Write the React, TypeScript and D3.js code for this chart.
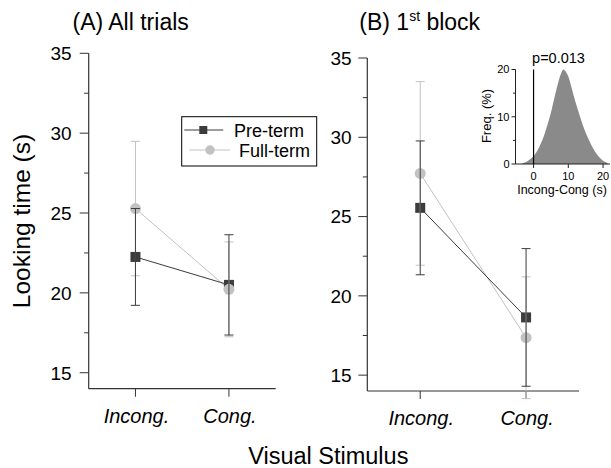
import React from "react";
import * as d3 from "d3";

const categories = ["Incong.", "Cong."];
const majorTicks = [15, 20, 25, 30, 35];
const minorTicks = [17.5, 22.5, 27.5, 32.5];

const preTermA = [22.25, 20.5];
const preTermAErr = [3.03, 3.14];
const fullTermA = [25.28, 20.22];
const fullTermAErr = [4.21, 2.97];

const preTermB = [25.55, 18.64];
const preTermBErr = [4.22, 4.34];
const fullTermB = [27.72, 17.36];
const fullTermBErr = [5.79, 3.84];

const diffX = [-3.5, -3, -2, -1, 0, 1, 2, 3, 4, 5, 6, 7, 8, 8.6, 9, 10, 11, 12, 13, 14, 15, 16, 17, 18, 19, 20, 21, 21.5];
const diffFreq = [0, 0.2, 0.5, 1.0, 1.7, 2.7, 4.2, 6.0, 8.3, 10.9, 14.0, 17.0, 19.3, 20, 19.8, 18.5, 16.0, 13.3, 10.9, 8.6, 6.6, 5.0, 3.5, 2.3, 1.4, 0.7, 0.3, 0];
const insetYTicks = [0, 10, 20];
const insetYMinor = [5, 15];
const insetXTicks = [0, 10, 20];
const pValue = "p=0.013";

const DARK = "#3c3c3c";
const LIGHT = "#c2c2c2";
const AXIS = "#333";
const FONT = "'Liberation Sans', Arial, sans-serif";

type PanelProps = {
  x0: number; x1: number; yTop: number; yBottom: number;
  pre: number[]; preErr: number[]; full: number[]; fullErr: number[];
  labelGap: number;
};

function Panel({ x0, x1, yTop, yBottom, pre, preErr, full, fullErr, labelGap }: PanelProps) {
  const y = d3.scaleLinear().domain([14, 35]).range([yBottom, yTop]);
  const x = d3.scalePoint<string>().domain(categories).range([x0, x1]).padding(0.5);
  const line = d3.line<number>().x((_, i) => x(categories[i])!).y((d) => y(d));
  const cap = 4.5;
  const errBars = (vals: number[], errs: number[], color: string) =>
    vals.map((v, i) => {
      const cx = x(categories[i])!;
      return (
        <g key={i} stroke={color} strokeWidth={1}>
          <line x1={cx} x2={cx} y1={y(v + errs[i])} y2={y(v - errs[i])} />
          <line x1={cx - cap} x2={cx + cap} y1={y(v + errs[i])} y2={y(v + errs[i])} />
          <line x1={cx - cap} x2={cx + cap} y1={y(v - errs[i])} y2={y(v - errs[i])} />
        </g>
      );
    });
  return (
    <g>
      <line x1={x0} x2={x0} y1={y(35)} y2={yBottom} stroke={AXIS} strokeWidth={1.2} />
      <line x1={x0} x2={x1} y1={yBottom} y2={yBottom} stroke={AXIS} strokeWidth={1.2} />
      {majorTicks.map((t) => (
        <g key={t}>
          <line x1={x0 - 9} x2={x0} y1={y(t)} y2={y(t)} stroke={AXIS} strokeWidth={1} />
          <text x={x0 - labelGap} y={y(t)} dy="0.36em" textAnchor="end" fontSize={19} fontFamily={FONT} fill="#000">
            {t}
          </text>
        </g>
      ))}
      {minorTicks.map((t) => (
        <line key={t} x1={x0 - 4.5} x2={x0} y1={y(t)} y2={y(t)} stroke={AXIS} strokeWidth={1} />
      ))}
      {categories.map((c) => (
        <g key={c}>
          <line x1={x(c)!} x2={x(c)!} y1={yBottom} y2={yBottom + 8} stroke={AXIS} strokeWidth={1} />
          <text x={x(c)! + 1} y={yBottom + 34} textAnchor="middle" fontSize={20} fontStyle="italic" fontFamily={FONT} fill="#000">
            {c}
          </text>
        </g>
      ))}
      <path d={line(full)!} fill="none" stroke={LIGHT} strokeWidth={1} />
      <path d={line(pre)!} fill="none" stroke={DARK} strokeWidth={1} />
      {pre.map((v, i) => (
        <rect key={"s" + i} x={x(categories[i])! - 5} y={y(v) - 5} width={10} height={10} fill={DARK} />
      ))}
      {full.map((v, i) => (
        <circle key={"c" + i} cx={x(categories[i])!} cy={y(v)} r={5.5} fill={LIGHT} />
      ))}
      {errBars(full, fullErr, LIGHT)}
      {errBars(pre, preErr, DARK)}
    </g>
  );
}

function Inset() {
  const x = d3.scaleLinear().domain([-5.2, 22]).range([515.5, 610]);
  const y = d3.scaleLinear().domain([0, 20]).range([164, 69.5]);
  const area = d3
    .area<number>()
    .x((_, i) => x(diffX[i]))
    .y0(y(0))
    .y1((d) => y(d))
    .curve(d3.curveMonotoneX);
  return (
    <g fontFamily={FONT}>
      <path d={area(diffFreq)!} fill="#8a8a8a" />
      <line x1={x.range()[0]} x2={x.range()[0]} y1={y(20)} y2={y(0)} stroke="#222" strokeWidth={1} />
      <line x1={x.range()[0]} x2={x.range()[1]} y1={y(0)} y2={y(0)} stroke="#222" strokeWidth={1} />
      {insetYTicks.map((t) => (
        <g key={t}>
          <line x1={x.range()[0] - 4} x2={x.range()[0]} y1={y(t)} y2={y(t)} stroke="#222" />
          <text x={x.range()[0] - 6} y={y(t)} dy="0.35em" textAnchor="end" fontSize={11} fill="#000">
            {t}
          </text>
        </g>
      ))}
      {insetYMinor.map((t) => (
        <line key={t} x1={x.range()[0] - 2.5} x2={x.range()[0]} y1={y(t)} y2={y(t)} stroke="#222" />
      ))}
      {insetXTicks.map((t) => (
        <g key={t}>
          <line x1={x(t)} x2={x(t)} y1={y(0)} y2={y(0) + 4} stroke="#222" />
          <text x={x(t)} y={y(0) + 16} textAnchor="middle" fontSize={11} fill="#000">
            {t}
          </text>
        </g>
      ))}
      <line x1={x(0)} x2={x(0)} y1={y(0)} y2={y(20)} stroke="#000" strokeWidth={1.2} />
      <text x={x(0) - 1.5} y={62.5} fontSize={14.5} fill="#000">
        {pValue}
      </text>
      <text x={562} y={194} textAnchor="middle" fontSize={12.5} fill="#000">
        Incong-Cong (s)
      </text>
      <text transform={`translate(491,116) rotate(-90)`} textAnchor="middle" fontSize={13} fill="#000">
        Freq. (%)
      </text>
    </g>
  );
}

export default function App() {
  return (
    <svg
      width={611}
      height={468}
      style={{ position: "absolute", left: 0, top: 0, background: "#fff" }}
      fontFamily={FONT}
    >
      <rect width={611} height={468} fill="#fff" />
      <text x={72.5} y={30} fontSize={23} fill="#000">
        (A) All trials
      </text>
      <text x={359.3} y={30} fontSize={23} fill="#000">
        (B) 1
        <tspan fontSize={14} dy={-9}>st</tspan>
        <tspan dy={9}> block</tspan>
      </text>
      <Panel x0={88.7} x1={275.7} yTop={53.3} yBottom={388.7} pre={preTermA} preErr={preTermAErr} full={fullTermA} fullErr={fullTermAErr} labelGap={17} />
      <Panel x0={367.3} x1={579} yTop={58} yBottom={391} pre={preTermB} preErr={preTermBErr} full={fullTermB} fullErr={fullTermBErr} labelGap={15.6} />
      <Inset />
      <g>
        <rect x={181.7} y={116.7} width={135} height={49.3} fill="#fff" stroke="#000" strokeWidth={1} />
        <line x1={184.3} x2={223.3} y1={130} y2={130} stroke={DARK} strokeWidth={1} />
        <rect x={199.3} y={126} width={8} height={8} fill={DARK} />
        <text x={234} y={136.5} fontSize={18} fill="#000">Pre-term</text>
        <line x1={189.3} x2={230} y1={150} y2={150} stroke={LIGHT} strokeWidth={1} />
        <circle cx={210} cy={150} r={4.7} fill={LIGHT} />
        <text x={239} y={156.5} fontSize={18} fill="#000">Full-term</text>
      </g>
      <text transform="translate(30,221) rotate(-90)" textAnchor="middle" fontSize={24.5} fill="#000">
        Looking time (s)
      </text>
      <text x={328.3} y={464} textAnchor="middle" fontSize={23.5} fill="#000">
        Visual Stimulus
      </text>
    </svg>
  );
}
